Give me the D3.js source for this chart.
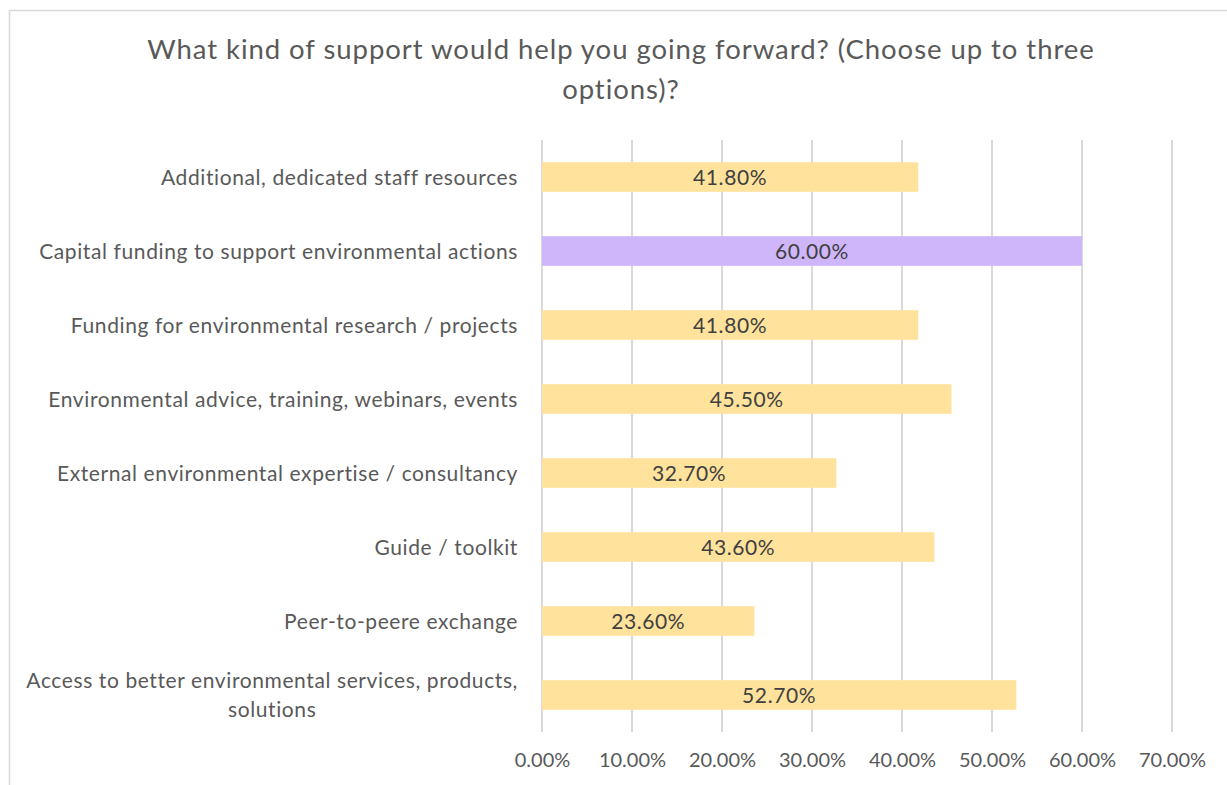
<!DOCTYPE html>
<html>
<head>
<meta charset="utf-8">
<script src="https://cdn.jsdelivr.net/npm/d3@7"></script>
<style>
  html, body { margin: 0; padding: 0; background: #fff; }
  svg { display: block; font-family: Lato, "Open Sans", sans-serif; }
</style>
</head>
<body>
<svg id="chart" width="1227" height="785"></svg>
<script>
// Survey responses: share of respondents choosing each kind of support
const categories = [
  "Additional, dedicated staff resources",
  "Capital funding to support environmental actions",
  "Funding for environmental research / projects",
  "Environmental advice, training, webinars, events",
  "External environmental expertise / consultancy",
  "Guide / toolkit",
  "Peer-to-peere exchange",
  "Access to better environmental services, products,|solutions"
];
const values = [41.8, 60.0, 41.8, 45.5, 32.7, 43.6, 23.6, 52.7];
const highlighted = [false, true, false, false, false, false, false, false];
const tickValues = [0, 10, 20, 30, 40, 50, 60, 70];
const titleLines = [
  "What kind of support would help you going forward? (Choose up to three",
  "options)?"
];

const svg = d3.select("#chart");
const W = 1227, H = 785;
const margin = { top: 140, right: 55, bottom: 53, left: 542 };

// Chart frame
svg.append("rect")
  .attr("x", 9.5).attr("y", 10.5)
  .attr("width", W + 20).attr("height", H + 20)
  .attr("fill", "#fff")
  .attr("stroke", "#d9d9d9").attr("stroke-width", 1.5);

const x = d3.scaleLinear().domain([0, 70]).range([margin.left, margin.left + 630]);
const y = d3.scaleBand().domain(categories).range([margin.top, margin.top + 592]).paddingInner(0.6).paddingOuter(0.3);

// Title
svg.append("g").selectAll("text").data(titleLines).join("text")
  .attr("x", 621).attr("y", (d, i) => 59 + i * 40)
  .attr("text-anchor", "middle")
  .attr("fill", "#595959")
  .style("font-size", "27.5px")
  .style("letter-spacing", "0.95px")
  .text(d => d);

// Vertical gridlines
svg.append("g").selectAll("line").data(tickValues).join("line")
  .attr("x1", d => x(d)).attr("x2", d => x(d))
  .attr("y1", margin.top).attr("y2", margin.top + 592)
  .attr("stroke", "#d9d9d9").attr("stroke-width", 2);

// Bottom axis tick labels
const xAxis = d3.axisBottom(x).tickValues(tickValues)
  .tickFormat(d => d3.format(".2f")(d) + "%").tickSize(0).tickPadding(0);
const gx = svg.append("g").attr("transform", `translate(0, ${margin.top + 592 + 21})`).call(xAxis);
gx.select(".domain").remove();
gx.selectAll("text").attr("fill", "#595959")
  .style("font-size", "20px").style("font-family", "Lato, sans-serif");

// Bars
const rows = categories.map((c, i) => ({ c, v: values[i], hi: highlighted[i] }));
svg.append("g").selectAll("rect").data(rows).join("rect")
  .attr("x", x(0))
  .attr("y", d => y(d.c))
  .attr("width", d => x(d.v) - x(0))
  .attr("height", y.bandwidth())
  .attr("fill", d => d.hi ? "#cfb6fb" : "#ffe29b");

// Value labels centred on bars
svg.append("g").selectAll("text").data(rows).join("text")
  .attr("x", d => (x(0) + x(d.v)) / 2)
  .attr("y", d => y(d.c) + y.bandwidth() / 2)
  .attr("dy", "0.36em")
  .attr("text-anchor", "middle")
  .attr("fill", "#404040")
  .style("font-size", "21px")
  .style("letter-spacing", "0.6px")
  .text(d => d3.format(".2f")(d.v) + "%");

// Category labels (wrapped lines are centred within the block)
const labelRight = 518;
const lg = svg.append("g");
rows.forEach(d => {
  const lines = d.c.split("|");
  const t = lg.append("text")
    .attr("fill", "#595959")
    .style("font-size", "21px")
    .style("letter-spacing", "0.6px");
  const cy = y(d.c) + y.bandwidth() / 2;
  const lh = 29;
  lines.forEach((ln, i) => {
    t.append("tspan").attr("x", 0).attr("y", cy + (i - (lines.length - 1) / 2) * lh).attr("dy", "0.36em").text(ln);
  });
  // widest line aligns to the right edge; all lines centred on it
  const spans = t.selectAll("tspan").nodes();
  const widths = spans.map(s => s.getComputedTextLength());
  const maxW = d3.max(widths);
  const center = labelRight - maxW / 2;
  t.selectAll("tspan").attr("x", center).attr("text-anchor", "middle");
});
</script>
</body>
</html>
